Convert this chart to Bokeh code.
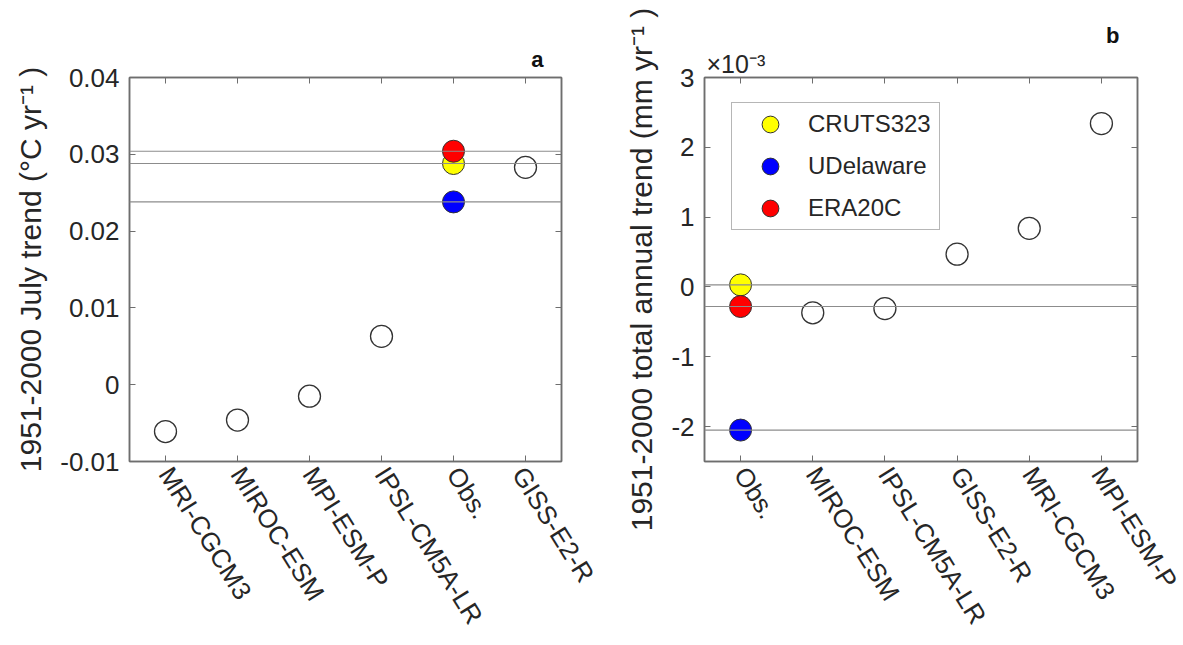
import math
from bokeh.plotting import figure
from bokeh.layouts import row
from bokeh.models import (Range1d, Span, Legend, LegendItem, Title,
                          LinearAxis, FixedTicker, CustomJSTickFormatter)
from bokeh.embed import file_html
from bokeh.resources import INLINE

# ---------------- data ----------------
# panel a: 1951-2000 July temperature trend (degC / yr)
models_a = ["MRI-CGCM3", "MIROC-ESM", "MPI-ESM-P", "IPSL-CM5A-LR", "Obs.", "GISS-E2-R"]
model_names_a = ["MRI-CGCM3", "MIROC-ESM", "MPI-ESM-P", "IPSL-CM5A-LR", "GISS-E2-R"]
model_vals_a = [-0.0061, -0.0046, -0.0015, 0.0063, 0.0283]

# panel b: 1951-2000 total annual precipitation trend (mm / yr)
models_b = ["Obs.", "MIROC-ESM", "IPSL-CM5A-LR", "GISS-E2-R", "MRI-CGCM3", "MPI-ESM-P"]
model_names_b = ["MIROC-ESM", "IPSL-CM5A-LR", "GISS-E2-R", "MRI-CGCM3", "MPI-ESM-P"]
model_vals_b = [-0.00037, -0.00031, 0.00047, 0.00084, 0.00234]

obs_names = ["CRUTS323", "UDelaware", "ERA20C"]
obs_colors = ["#FFFF00", "#0000FF", "#FF0000"]
obs_vals_a = [0.0288, 0.0238, 0.0304]
obs_vals_b = [0.00003, -0.00205, -0.00028]

yticks_a = [-0.01, 0.0, 0.01, 0.02, 0.03, 0.04]
yticks_b = [-0.002, -0.001, 0.0, 0.001, 0.002, 0.003]

FONT = "Liberation Sans"
BOX = "#6e6e6e"
TXT = "#262626"
REF = "#8c8c8c"
MS = 22


def pos(factors, name):
    return factors.index(name) + 1


def style_axes(p, factors, ticks, fmt):
    xt = [i + 1 for i in range(len(factors))]
    for ax in p.yaxis:
        ax.ticker = FixedTicker(ticks=ticks)
        ax.formatter = fmt
        ax.major_tick_in = 6
        ax.major_tick_out = 0
        ax.minor_tick_line_color = None
        ax.major_label_standoff = 10
        ax.major_label_text_font = FONT
        ax.major_label_text_font_size = "26px"
        ax.major_label_text_color = TXT
        ax.axis_label_text_font = FONT
        ax.axis_label_text_font_size = "30px"
        ax.axis_label_text_font_style = "normal"
        ax.axis_label_text_color = TXT
        ax.axis_label_standoff = 10
        ax.axis_line_color = BOX
        ax.axis_line_width = 1.5
        ax.major_tick_line_color = BOX
    for ax in p.xaxis:
        ax.ticker = FixedTicker(ticks=xt)
        ax.major_label_overrides = {t: f for t, f in zip(xt, factors)}
        ax.minor_tick_line_color = None
        ax.major_tick_in = 6
        ax.major_tick_out = 0
        ax.major_label_orientation = -math.radians(58)
        ax.major_label_standoff = 8
        ax.major_label_text_font = FONT
        ax.major_label_text_font_size = "26px"
        ax.major_label_text_color = TXT
        ax.axis_line_color = BOX
        ax.axis_line_width = 1.5
        ax.major_tick_line_color = BOX
    # mirrored top / right axes: inward ticks only, blank labels
    top = LinearAxis(ticker=FixedTicker(ticks=xt),
                     formatter=CustomJSTickFormatter(code="return '';"),
                     major_tick_in=6, major_tick_out=0, minor_tick_line_color=None,
                     axis_line_color=BOX, axis_line_width=1.5, major_tick_line_color=BOX,
                     major_label_standoff=0)
    right = LinearAxis(ticker=FixedTicker(ticks=ticks),
                       formatter=CustomJSTickFormatter(code="return '';"),
                       major_tick_in=6, major_tick_out=0, minor_tick_line_color=None,
                       axis_line_color=BOX, axis_line_width=1.5, major_tick_line_color=BOX,
                       major_label_standoff=0)
    p.add_layout(top, "above")
    p.add_layout(right, "right")
    p.xgrid.grid_line_color = None
    p.ygrid.grid_line_color = None
    p.outline_line_color = BOX
    p.outline_line_width = 1.5
    p.background_fill_color = "white"
    p.border_fill_color = "white"


# ---------------- panel a ----------------
pa = figure(width=600, height=645, x_range=Range1d(0.5, len(models_a) + 0.5),
            y_range=Range1d(-0.01, 0.04), output_backend="svg", toolbar_location=None,
            min_border_left=129, min_border_right=39, min_border_top=77, min_border_bottom=184)
pa.yaxis.axis_label = "1951-2000 July trend (°C yr⁻¹ )"
style_axes(pa, models_a, yticks_a, CustomJSTickFormatter(
    code="const v = Math.round(tick*100)/100; return v === 0 ? '0' : v.toFixed(2);"))

for v in obs_vals_a:
    pa.add_layout(Span(location=v, dimension="width", line_color=REF, line_width=1.2))

pa.scatter(x=[pos(models_a, n) for n in model_names_a], y=model_vals_a, size=MS,
           marker="circle", fill_color=None, line_color="#333333", line_width=1.3)
for name, col, v in zip(obs_names, obs_colors, obs_vals_a):
    pa.scatter(x=[pos(models_a, "Obs.")], y=[v], size=MS, marker="circle",
               fill_color=col, line_color="#333333", line_width=1)

pa.add_layout(Title(text="a", align="right", offset=18, standoff=11, text_font=FONT,
                    text_font_size="22px", text_font_style="bold", text_color="#111111"),
              "above")

# ---------------- panel b ----------------
pb = figure(width=583, height=645, x_range=Range1d(0.5, len(models_b) + 0.5),
            y_range=Range1d(-0.0025, 0.003), output_backend="svg", toolbar_location=None,
            min_border_left=104, min_border_right=46, min_border_top=77, min_border_bottom=184)
pb.yaxis.axis_label = "1951-2000 total annual trend (mm yr⁻¹ )"
style_axes(pb, models_b, yticks_b, CustomJSTickFormatter(
    code="const v = Math.round(tick*1000); return v === 0 ? '0' : v.toString();"))

for v in obs_vals_b:
    pb.add_layout(Span(location=v, dimension="width", line_color=REF, line_width=1.2))

pb.scatter(x=[pos(models_b, n) for n in model_names_b], y=model_vals_b, size=MS,
           marker="circle", fill_color=None, line_color="#333333", line_width=1.3)
items = []
for name, col, v in zip(obs_names, obs_colors, obs_vals_b):
    r = pb.scatter(x=[pos(models_b, "Obs.")], y=[v], size=MS, marker="circle",
                   fill_color=col, line_color="#333333", line_width=1)
    items.append(LegendItem(label=name, renderers=[r]))

leg = Legend(items=items, location=(27, 231), margin=0, padding=0, spacing=0,
             glyph_width=76, glyph_height=42, label_height=42, label_width=131,
             label_standoff=0, label_text_font=FONT, label_text_font_size="24px",
             label_text_color=TXT, border_line_color=BOX, border_line_width=1.5,
             background_fill_color="white", background_fill_alpha=1)
pb.add_layout(leg, "center")

pb.add_layout(Title(text="×10⁻³", align="left", offset=2, standoff=0, text_font=FONT,
                    text_font_size="25px", text_font_style="normal", text_color=TXT),
              "above")
pb.add_layout(Title(text="b", align="right", offset=18, standoff=0, text_font=FONT,
                    text_font_size="22px", text_font_style="bold", text_color="#111111"),
              "above")

layout = row(pa, pb)
open("out.html", "w").write(file_html(layout, INLINE))
